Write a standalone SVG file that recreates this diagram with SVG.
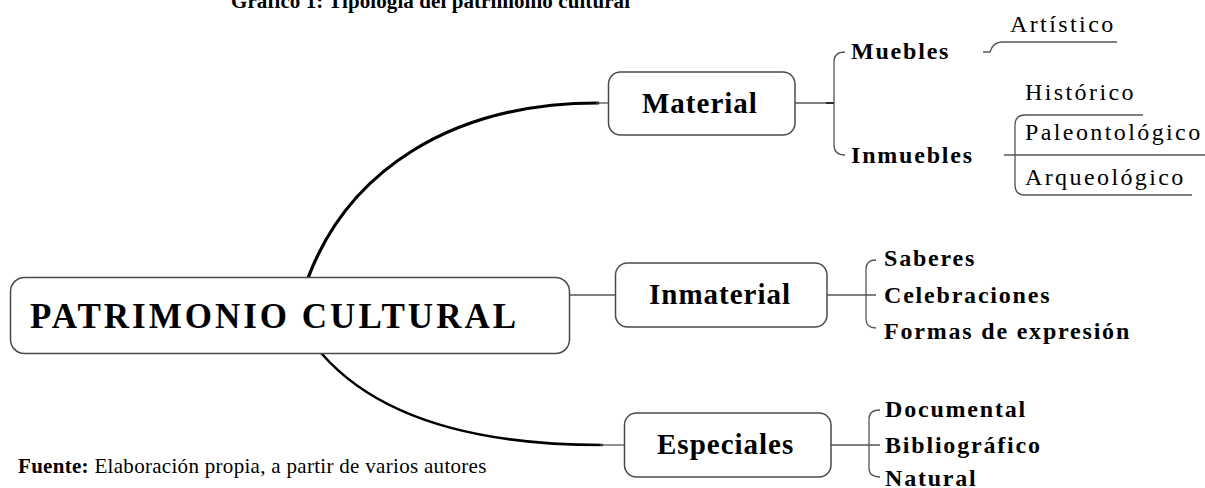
<svg xmlns="http://www.w3.org/2000/svg" width="1205" height="488" viewBox="0 0 1205 488">
<style>
  text { font-family: "Liberation Serif", "Times New Roman", serif; fill: #000; }
  .title { font-size: 21px; font-weight: bold; }
  .root { font-size: 35px; font-weight: bold; letter-spacing: 3px; }
  .node { font-size: 29px; font-weight: bold; letter-spacing: 1px; }
  .sub { font-size: 24px; font-weight: bold; letter-spacing: 1.8px; }
  .leaf { font-size: 24px; letter-spacing: 2.4px; }
  .foot { font-size: 21px; letter-spacing: 0.3px; }
  .box { fill: #fff; stroke: #4a4a4a; stroke-width: 1.5; }
  .thick { fill: none; stroke: #000; stroke-width: 3.2; stroke-linecap: round; }
  .thin { fill: none; stroke: #555; stroke-width: 1.3; }
</style>
<rect width="1205" height="488" fill="#fff"/>

<text class="title" x="231" y="8" textLength="399">Gráfico 1: Tipología del patrimonio cultural</text>

<g id="connectors">
  <path class="thick" d="M308 278 C348 172 450 103 598 103"/>
  <path class="thin" d="M596 103 L608 103"/>
  <path class="thick" style="stroke-width:2.6" d="M322 354 C380 420 480 445 602 445"/>
  <path class="thin" d="M600 445 L624 445"/>
  <path class="thin" d="M570 295 L615 295"/>
  <path class="thin" d="M795 103 L834 103"/>
  <path class="thin" style="stroke:#222;stroke-width:1.8" d="M826 103 L834 103"/>
  <path class="thin" d="M845 52 Q834 52 834 62 L834 145 Q834 155 845 155"/>
  <path class="thin" d="M983 52 L990 52 Q993 42 1002 42 L1117 42"/>
  <path class="thin" d="M1004 155 L1205 155"/>
  <path class="thin" d="M1143 115 L1025 115 Q1015 115 1015 125 L1015 185 Q1015 195 1025 195 L1192 195"/>
  <path class="thin" d="M827 295 L876 295"/>
  <path class="thin" d="M876 260 Q866 260 866 269 L866 319 Q866 328 876 328"/>
  <path class="thin" d="M831 445 L880 445"/>
  <path class="thin" d="M880 410 Q869 410 869 419 L869 468 Q869 477 880 477"/>
</g>

<g id="node-root">
  <rect class="box" x="10.5" y="277.5" width="559" height="76" rx="14"/>
  <text class="root" x="30" y="328">PATRIMONIO CULTURAL</text>
</g>
<g id="node-material">
  <rect class="box" x="608.5" y="72" width="186.5" height="63" rx="12"/>
  <text class="node" x="642" y="113">Material</text>
</g>
<g id="node-inmaterial">
  <rect class="box" x="615.5" y="263" width="211.5" height="64" rx="12"/>
  <text class="node" x="649" y="304">Inmaterial</text>
</g>
<g id="node-especiales">
  <rect class="box" x="624.5" y="413" width="206.5" height="64" rx="12"/>
  <text class="node" x="657" y="454">Especiales</text>
</g>

<g id="node-muebles"><text class="sub" x="851" y="59">Muebles</text></g>
<g id="node-inmuebles"><text class="sub" x="851" y="163">Inmuebles</text></g>
<g id="node-artistico"><text class="leaf" x="1010" y="32">Artístico</text></g>
<g id="node-historico"><text class="leaf" x="1025" y="100">Histórico</text></g>
<g id="node-paleontologico"><text class="leaf" x="1025" y="140">Paleontológico</text></g>
<g id="node-arqueologico"><text class="leaf" x="1025" y="185">Arqueológico</text></g>

<g id="node-saberes"><text class="sub" x="884" y="266">Saberes</text></g>
<g id="node-celebraciones"><text class="sub" x="884" y="303">Celebraciones</text></g>
<g id="node-formas"><text class="sub" x="884" y="339">Formas de expresión</text></g>

<g id="node-documental"><text class="sub" x="885" y="417">Documental</text></g>
<g id="node-bibliografico"><text class="sub" x="885" y="453">Bibliográfico</text></g>
<g id="node-natural"><text class="sub" x="885" y="486">Natural</text></g>

<text class="foot" x="18" y="473"><tspan font-weight="bold">Fuente:</tspan> Elaboración propia, a partir de varios autores</text>
</svg>
